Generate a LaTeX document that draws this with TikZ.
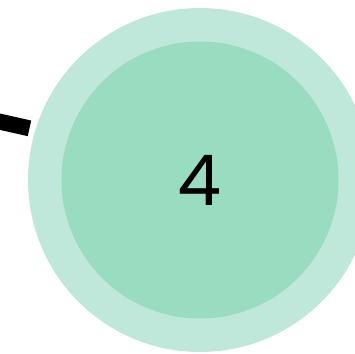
\documentclass[tikz,border=0pt]{standalone}
\usepackage{fontspec}
\setmainfont{Poppins}
\definecolor{outerc}{RGB}{192,232,218}
\definecolor{innerc}{RGB}{154,220,192}
\begin{document}
\begin{tikzpicture}[x=1pt,y=1pt,
  ring/.style={circle,fill=outerc,minimum size=344pt,inner sep=0pt},
  core/.style={circle,fill=innerc,minimum size=277pt,inner sep=0pt,font=\fontsize{70}{70}\selectfont}]
\useasboundingbox (0,0) rectangle (355,353);
\node[ring] (r) at (200,173) {};
\node[core] (c) at (200,173) {4};
\coordinate (e) at (-30,238);
\draw[line width=16pt,shorten >=6pt] (e) -- (r.163);
\end{tikzpicture}
\end{document}
